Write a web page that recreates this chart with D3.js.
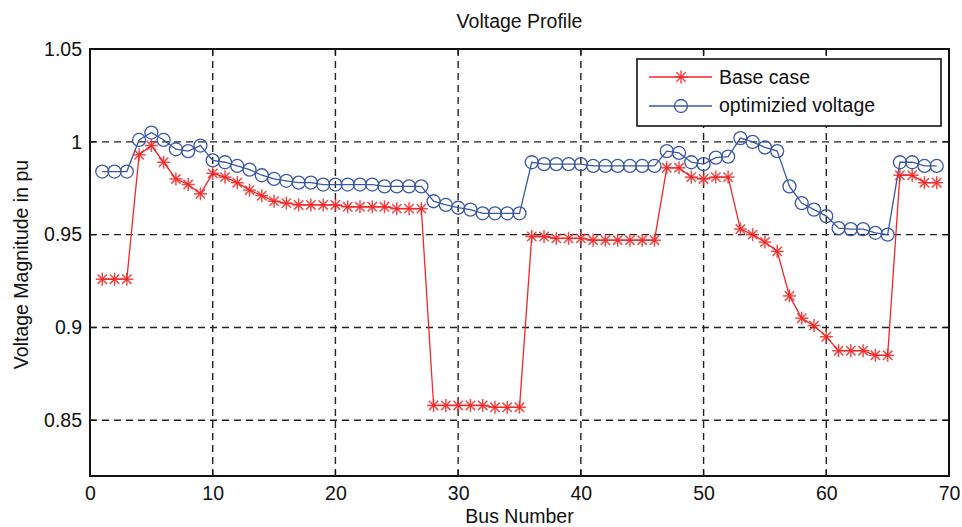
<!DOCTYPE html>
<html>
<head>
<meta charset="utf-8">
<script src="https://cdn.jsdelivr.net/npm/d3@7"></script>
<style>
  html, body { margin: 0; padding: 0; background: #fff; }
  svg { display: block; }
  text { font-family: "Liberation Sans", Arial, sans-serif; fill: #111; }
</style>
</head>
<body>
<svg id="chart" width="962" height="527"></svg>
<script>
const buses = d3.range(1, 70);
const baseCase = [
  0.926, 0.926, 0.926, 0.993, 0.998, 0.989, 0.980, 0.977, 0.972, 0.983,
  0.981, 0.978, 0.974, 0.971, 0.968, 0.967, 0.966, 0.966, 0.966, 0.966,
  0.965, 0.965, 0.965, 0.965, 0.964, 0.964, 0.964, 0.858, 0.858, 0.858,
  0.858, 0.858, 0.857, 0.857, 0.857, 0.949, 0.949, 0.948, 0.948, 0.948,
  0.947, 0.947, 0.947, 0.947, 0.947, 0.947, 0.986, 0.986, 0.981, 0.980,
  0.981, 0.981, 0.953, 0.950, 0.946, 0.941, 0.917, 0.905, 0.901, 0.895,
  0.8875, 0.8875, 0.8875, 0.885, 0.885, 0.982, 0.982, 0.978, 0.978
];
const optimized = [
  0.984, 0.984, 0.984, 1.001, 1.005, 1.001, 0.996, 0.995, 0.998, 0.990,
  0.989, 0.987, 0.985, 0.982, 0.980, 0.979, 0.978, 0.978, 0.977, 0.977,
  0.977, 0.977, 0.977, 0.976, 0.976, 0.976, 0.976, 0.968, 0.966, 0.9645,
  0.9635, 0.9615, 0.9615, 0.9615, 0.9615, 0.989, 0.988, 0.988, 0.988, 0.988,
  0.987, 0.987, 0.987, 0.987, 0.987, 0.987, 0.995, 0.994, 0.989, 0.988,
  0.9915, 0.992, 1.002, 1.000, 0.997, 0.995, 0.976, 0.967, 0.9635, 0.960,
  0.9535, 0.953, 0.953, 0.951, 0.950, 0.989, 0.989, 0.987, 0.987
];
const xTicks = [0, 10, 20, 30, 40, 50, 60, 70];
const yTicks = [0.85, 0.9, 0.95, 1, 1.05];
const seriesNames = ["Base case", "optimizied voltage"];

const FS = "19.5px";
const svg = d3.select("#chart");
const L = 90, R = 949, T = 49, B = 476;
const x = d3.scaleLinear().domain([0, 70]).range([L, R]);
const y = d3.scaleLinear().domain([0.82, 1.05]).range([B, T]);
const RED = "#f02828", BLUE = "#3a58a8";

// grid
const g = svg.append("g");
g.selectAll("line.vg").data(xTicks.filter(d => d > 0 && d < 70)).enter().append("line")
  .attr("x1", d => x(d)).attr("x2", d => x(d)).attr("y1", T).attr("y2", B)
  .attr("stroke", "#222").attr("stroke-width", 1.4).attr("stroke-dasharray", "7,5");
g.selectAll("line.hg").data(yTicks.filter(d => d < 1.05)).enter().append("line")
  .attr("x1", L).attr("x2", R).attr("y1", d => y(d)).attr("y2", d => y(d))
  .attr("stroke", "#222").attr("stroke-width", 1.4).attr("stroke-dasharray", "7,5");

// axes
const xAxis = d3.axisBottom(x).tickValues(xTicks).tickSize(0).tickPadding(10).tickFormat(d3.format("d"));
const yAxis = d3.axisLeft(y).tickValues(yTicks).tickSize(0).tickPadding(8).tickFormat(d => String(d));
const xa = svg.append("g").attr("transform", `translate(0,${B})`).call(xAxis);
const ya = svg.append("g").attr("transform", `translate(${L},0)`).call(yAxis);
[xa, ya].forEach(a => {
  a.select(".domain").remove();
  a.selectAll("text").style("font-family", "'Liberation Sans', Arial, sans-serif").style("font-size", FS).attr("fill", "#111");
});

// inner ticks
const tk = svg.append("g").attr("stroke", "#111").attr("stroke-width", 1.3);
xTicks.forEach(d => {
  tk.append("line").attr("x1", x(d)).attr("x2", x(d)).attr("y1", B).attr("y2", B - 6);
  tk.append("line").attr("x1", x(d)).attr("x2", x(d)).attr("y1", T).attr("y2", T + 6);
});
yTicks.forEach(d => {
  tk.append("line").attr("x1", L).attr("x2", L + 6).attr("y1", y(d)).attr("y2", y(d));
  tk.append("line").attr("x1", R).attr("x2", R - 6).attr("y1", y(d)).attr("y2", y(d));
});

// box
svg.append("rect").attr("x", L).attr("y", T).attr("width", R - L).attr("height", B - T)
  .attr("fill", "none").attr("stroke", "#111").attr("stroke-width", 2);

// series
const line = d3.line().x(d => x(d[0])).y(d => y(d[1]));
const redData = buses.map((b, i) => [b, baseCase[i]]);
const blueData = buses.map((b, i) => [b, optimized[i]]);

svg.append("path").datum(blueData).attr("d", line).attr("fill", "none").attr("stroke", BLUE).attr("stroke-width", 1.3);
svg.append("path").datum(redData).attr("d", line).attr("fill", "none").attr("stroke", RED).attr("stroke-width", 1.3);

function star(sel, cx, cy, s) {
  const a = s * 0.72;
  const gg = sel.append("g").attr("stroke", RED).attr("stroke-width", 1.5).attr("stroke-opacity", 0.85);
  gg.append("line").attr("x1", cx - s).attr("x2", cx + s).attr("y1", cy).attr("y2", cy);
  gg.append("line").attr("x1", cx).attr("x2", cx).attr("y1", cy - s).attr("y2", cy + s);
  gg.append("line").attr("x1", cx - a).attr("x2", cx + a).attr("y1", cy - a).attr("y2", cy + a);
  gg.append("line").attr("x1", cx - a).attr("x2", cx + a).attr("y1", cy + a).attr("y2", cy - a);
}

svg.append("g").selectAll("circle").data(blueData).enter().append("circle")
  .attr("cx", d => x(d[0])).attr("cy", d => y(d[1])).attr("r", 6.5)
  .attr("fill", "none").attr("stroke", BLUE).attr("stroke-width", 1.3);
const starG = svg.append("g");
redData.forEach(d => star(starG, x(d[0]), y(d[1]), 6.5));

// legend
const lg = svg.append("g");
lg.append("rect").attr("x", 637).attr("y", 59).attr("width", 304).attr("height", 67)
  .attr("fill", "#fff").attr("stroke", "#111").attr("stroke-width", 1.6);
lg.append("line").attr("x1", 649).attr("x2", 712).attr("y1", 77).attr("y2", 77).attr("stroke", RED).attr("stroke-width", 1.3);
star(lg, 681, 77, 6.5);
lg.append("text").attr("x", 719).attr("y", 84).style("font-size", FS).text(seriesNames[0]);
lg.append("line").attr("x1", 649).attr("x2", 712).attr("y1", 106).attr("y2", 106).attr("stroke", BLUE).attr("stroke-width", 1.3);
lg.append("circle").attr("cx", 681).attr("cy", 106).attr("r", 6.5).attr("fill", "none").attr("stroke", BLUE).attr("stroke-width", 1.3);
lg.append("text").attr("x", 719).attr("y", 112).style("font-size", FS).text(seriesNames[1]);

// titles
svg.append("text").attr("x", (L + R) / 2).attr("y", 28).attr("text-anchor", "middle").style("font-size", FS).text("Voltage Profile");
svg.append("text").attr("x", (L + R) / 2).attr("y", 523).attr("text-anchor", "middle").style("font-size", FS).text("Bus Number");
svg.append("text").attr("transform", `translate(28,${(T + B) / 2 + 2}) rotate(-90)`).attr("text-anchor", "middle").style("font-size", FS).text("Voltage Magnitude in pu");
</script>
</body>
</html>
